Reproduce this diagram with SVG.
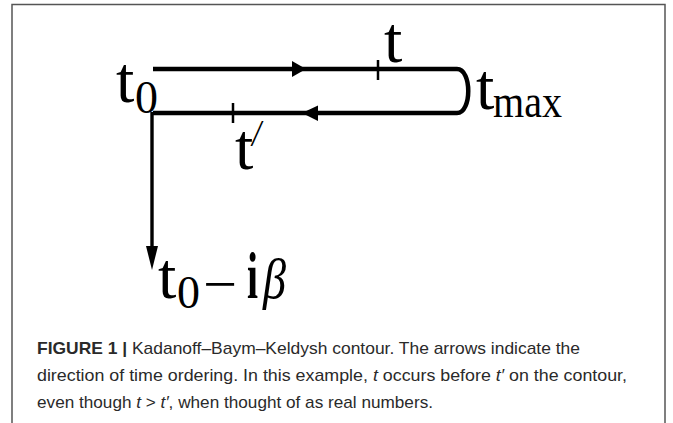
<svg xmlns="http://www.w3.org/2000/svg" width="673" height="423" viewBox="0 0 673 423">
<style>
.frame{fill:none;stroke:#555;stroke-width:1.5}
.wire{fill:none;stroke:#000;stroke-width:4.5;stroke-linejoin:round}
.vwire{fill:none;stroke:#000;stroke-width:3.4}
.tick{stroke:#000;stroke-width:2.5}
.head{fill:#000}
.m{font-family:"Liberation Serif","DejaVu Serif",serif;fill:#000}
.big{font-size:66px}
.sub{font-size:46px}
.cap{font-family:"Liberation Sans",Arial,sans-serif;font-size:17px;fill:#2a2a2a}
.b{font-weight:bold}
.i{font-style:italic}
</style>
<rect class="frame" x="12" y="4.5" width="653" height="440"/>
<g id="connectors">
<path class="wire" d="M153,69 H457 C472,69 472,113 457,113 H153"/>
<path class="vwire" d="M152,112 V250"/>
<polygon class="head" points="292,61 306,69 292,77"/>
<polygon class="head" points="302,113 318,105.5 318,121"/>
<polygon class="head" points="146,246 152,270 158,246"/>
<line class="tick" x1="378" y1="60" x2="378" y2="80"/>
<line class="tick" x1="233" y1="103" x2="233" y2="123"/>
</g>
<g id="t0">
<text class="m big" x="116" y="102">t</text>
<text class="m sub" x="135" y="113">0</text>
</g>
<g id="t">
<text class="m big" x="384" y="62">t</text>
</g>
<g id="tmax">
<text class="m big" x="476" y="109">t</text>
<text class="m sub" x="493" y="117" textLength="69" lengthAdjust="spacingAndGlyphs">max</text>
</g>
<g id="tprime">
<text class="m big" x="235" y="169">t</text>
<text class="m i" x="252" y="146" font-size="38" textLength="9" lengthAdjust="spacingAndGlyphs">/</text>
</g>
<g id="t0ib">
<text class="m big" x="158" y="298">t</text>
<text class="m sub" x="177" y="308">0</text>
<text class="m" x="203" y="303" font-size="56" textLength="34" lengthAdjust="spacingAndGlyphs">−</text>
<text class="m big b" x="247" y="298" textLength="11" lengthAdjust="spacingAndGlyphs">i</text>
<text class="m i" x="263" y="298" font-size="56" textLength="23" lengthAdjust="spacingAndGlyphs">β</text>
</g>
<g id="caption">
<text class="cap" x="37" y="354" textLength="543" lengthAdjust="spacingAndGlyphs"><tspan class="b">FIGURE 1 |</tspan> Kadanoff–Baym–Keldysh contour. The arrows indicate the</text>
<text class="cap" x="37" y="381" textLength="590" lengthAdjust="spacingAndGlyphs">direction of time ordering. In this example, <tspan class="i">t</tspan> occurs before <tspan class="i">t′</tspan> on the contour,</text>
<text class="cap" x="37" y="408" textLength="396" lengthAdjust="spacingAndGlyphs">even though <tspan class="i">t</tspan> &gt; <tspan class="i">t′</tspan>, when thought of as real numbers.</text>
</g>
</svg>
